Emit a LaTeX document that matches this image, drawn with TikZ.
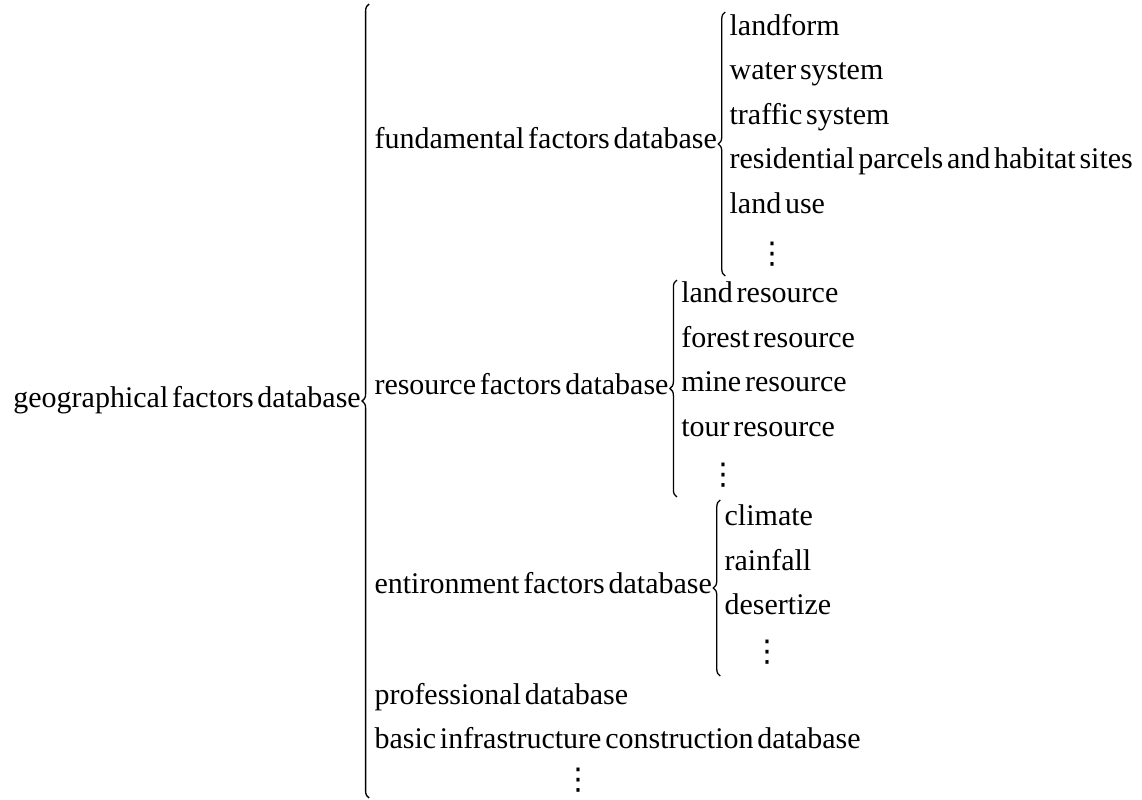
\documentclass[tikz,border=0pt]{standalone}
\usepackage{fontspec}
\setmainfont{Liberation Serif}[WordSpace=0.5]
\newfontfamily\dotsfont{DejaVu Sans}
\usetikzlibrary{positioning, calc, decorations.pathreplacing}
\tikzset{
  lbl/.style={anchor=west, inner sep=0pt, text height=0.7em, text depth=0.2em,
              font=\fontsize{15}{17}\selectfont},
  dts/.style={anchor=center, inner sep=0pt, font=\fontsize{15}{17}\dotsfont},
  brc/.style={decorate, decoration={brace, amplitude=3.5pt}, line width=0.65pt},
}

\begin{document}
\begin{tikzpicture}[x=0.5pt, y=-0.5pt]
  \useasboundingbox (0,0) rectangle (1142,799);
  % root and main brace
  \node[lbl] (geo) at (13,402) {geographical factors database};
  \coordinate (mainX) at ([xshift=4pt]geo.east);
  \draw[brc] (mainX |- 0,798) -- (mainX |- 0,4);
  \coordinate (col2) at ([xshift=2.5pt]mainX);
  \node[lbl] (fund) at (col2 |- 0,143) {fundamental factors database};
  \node[lbl] (res) at (col2 |- 0,389) {resource factors database};
  \node[lbl] (env) at (col2 |- 0,588) {entironment factors database};
  \node[lbl] (prof) at (col2 |- 0,699) {professional database};
  \node[lbl] (infra) at (col2 |- 0,743.6) {basic infrastructure construction database};
  \node[dts, xshift=102pt] (more) at (col2 |- 0,780) {⋮};
  % fundamental factors
  \coordinate (fundX) at ([xshift=4pt]fund.east);
  \draw[brc] (fundX |- 0,276) -- (fundX |- 0,12);
  \coordinate (fundC) at ([xshift=2pt]fundX);
  \foreach \itm [count=\i from 0] in {landform, water system, traffic system,
      residential parcels and habitat sites, land use} {
    \pgfmathsetmacro{\yy}{30+44.6*\i}
    \node[lbl] (fund-\i) at (fundC |- 0,\yy) {\itm};
  }
  \node[dts, xshift=21.5pt] (fund-dots) at (fundC |- 0,254) {⋮};
  % resource factors
  \coordinate (resX) at ([xshift=4pt]res.east);
  \draw[brc] (resX |- 0,497) -- (resX |- 0,280);
  \coordinate (resC) at ([xshift=2pt]resX);
  \foreach \itm [count=\i from 0] in {land resource, forest resource,
      mine resource, tour resource} {
    \pgfmathsetmacro{\yy}{297.6+44.6*\i}
    \node[lbl] (res-\i) at (resC |- 0,\yy) {\itm};
  }
  \node[dts, xshift=21.5pt] (res-dots) at (resC |- 0,475) {⋮};
  % environment factors
  \coordinate (envX) at ([xshift=4pt]env.east);
  \draw[brc] (envX |- 0,676) -- (envX |- 0,500);
  \coordinate (envC) at ([xshift=2pt]envX);
  \foreach \itm [count=\i from 0] in {climate, rainfall, desertize} {
    \pgfmathsetmacro{\yy}{520.6+44.6*\i}
    \node[lbl] (env-\i) at (envC |- 0,\yy) {\itm};
  }
  \node[dts, xshift=21.5pt] (env-dots) at (envC |- 0,652) {⋮};
\end{tikzpicture}
\end{document}
